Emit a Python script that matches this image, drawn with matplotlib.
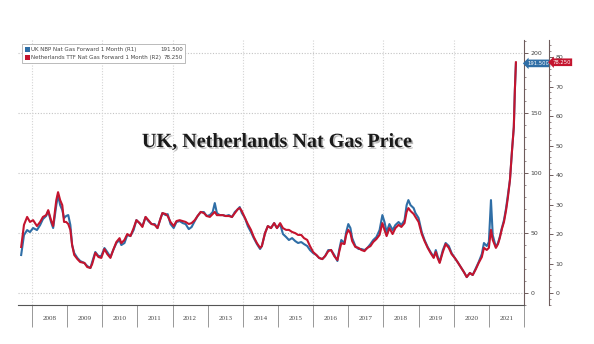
import matplotlib
matplotlib.use("Agg")
import matplotlib.pyplot as plt
import matplotlib.patheffects as pe
from matplotlib.patches import Rectangle
from matplotlib.ticker import MultipleLocator, FixedLocator

# decimal years of the read points
dates = [2007.69, 2007.77, 2007.86, 2007.94, 2008.03, 2008.14, 2008.23, 2008.31, 2008.40, 2008.46,
         2008.54, 2008.60, 2008.69, 2008.74, 2008.80, 2008.86, 2008.91, 2008.97, 2009.03, 2009.09,
         2009.14, 2009.20, 2009.29, 2009.37, 2009.49, 2009.57, 2009.66, 2009.71, 2009.80, 2009.89,
         2009.97, 2010.06, 2010.14, 2010.23, 2010.31, 2010.40, 2010.49, 2010.54, 2010.63, 2010.71,
         2010.80, 2010.89, 2010.97, 2011.06, 2011.14, 2011.23, 2011.31, 2011.40, 2011.49, 2011.57,
         2011.66, 2011.71, 2011.80, 2011.86, 2011.94, 2012.03, 2012.11, 2012.20, 2012.29, 2012.37,
         2012.46, 2012.54, 2012.63, 2012.71, 2012.80, 2012.89, 2012.97, 2013.06, 2013.14, 2013.20,
         2013.26, 2013.34, 2013.43, 2013.51, 2013.60, 2013.69, 2013.77, 2013.86, 2013.91, 2013.97,
         2014.06, 2014.14, 2014.23, 2014.31, 2014.40, 2014.49, 2014.54, 2014.63, 2014.71, 2014.80,
         2014.89, 2014.97, 2015.06, 2015.14, 2015.23, 2015.31, 2015.40, 2015.49, 2015.57, 2015.66,
         2015.74, 2015.83, 2015.91, 2016.00, 2016.09, 2016.17, 2016.26, 2016.34, 2016.43, 2016.51,
         2016.60, 2016.69, 2016.74, 2016.80, 2016.89, 2016.94, 2017.00, 2017.06, 2017.11, 2017.20,
         2017.29, 2017.37, 2017.46, 2017.54, 2017.63, 2017.71, 2017.80, 2017.89, 2017.97, 2018.03,
         2018.09, 2018.17, 2018.26, 2018.34, 2018.43, 2018.51, 2018.60, 2018.66, 2018.71, 2018.77,
         2018.86, 2018.91, 2019.00, 2019.09, 2019.17, 2019.26, 2019.34, 2019.43, 2019.49, 2019.54,
         2019.60, 2019.69, 2019.77, 2019.86, 2019.94, 2020.03, 2020.11, 2020.20, 2020.29, 2020.37,
         2020.46, 2020.54, 2020.63, 2020.71, 2020.80, 2020.86, 2020.94, 2021.00, 2021.06, 2021.11,
         2021.20, 2021.26, 2021.31, 2021.37, 2021.43, 2021.49, 2021.54, 2021.60, 2021.66, 2021.71,
         2021.74, 2021.77]

# UK NBP, pence/therm (R1)
nbp = [31.7, 48.3, 52.5, 50.8, 54.2, 52.5, 56.7, 61.7, 64.2, 68.3,
       59.2, 54.2, 73.3, 81.7, 73.3, 69.2, 62.5, 64.2, 65.0, 56.7,
       40.0, 33.3, 29.2, 26.7, 25.0, 22.5, 20.8, 25.8, 34.2, 30.8,
       30.8, 37.5, 34.2, 30.0, 35.8, 41.7, 44.2, 40.0, 41.7, 48.3,
       47.5, 52.5, 60.8, 58.3, 55.8, 63.3, 60.0, 57.5, 57.5, 54.2,
       62.5, 66.7, 65.0, 65.8, 57.5, 54.2, 59.2, 60.0, 58.3, 57.5,
       53.3, 55.0, 60.0, 64.2, 67.5, 67.5, 64.2, 65.0, 67.5, 75.0,
       66.7, 65.0, 65.0, 64.2, 65.0, 63.3, 67.5, 70.0, 71.7, 66.7,
       62.5, 55.8, 50.8, 45.8, 40.8, 36.7, 39.2, 50.0, 55.8, 54.2,
       58.3, 54.2, 57.5, 49.2, 46.7, 44.2, 45.8, 43.3, 41.7, 42.5,
       40.8, 39.2, 35.8, 33.3, 31.7, 29.2, 28.3, 30.8, 35.8, 35.8,
       31.7, 26.7, 35.8, 44.2, 41.7, 50.8, 57.5, 54.2, 45.8, 39.2,
       36.7, 36.7, 35.8, 37.5, 40.8, 44.2, 46.7, 52.5, 65.0, 59.2,
       50.8, 57.5, 52.5, 56.7, 59.2, 56.7, 60.8, 73.3, 77.5, 73.3,
       70.8, 66.7, 62.5, 50.8, 44.2, 38.3, 34.2, 30.0, 35.8, 30.8,
       25.8, 35.8, 41.7, 39.2, 33.3, 29.2, 25.8, 21.7, 17.5, 13.3,
       16.7, 15.0, 20.8, 25.8, 32.5, 41.7, 39.2, 42.5, 77.5, 48.3,
       38.3, 41.7, 46.7, 54.2, 60.8, 70.8, 81.7, 94.2, 119.2, 138.3,
       169.2, 191.5]

# Netherlands TTF, EUR/MWh (R2)
ttf = [15.6, 23.1, 25.8, 24.1, 24.7, 22.7, 24.1, 25.8, 26.4, 28.1,
       24.7, 22.7, 31.5, 34.2, 31.5, 29.8, 24.1, 24.1, 23.4, 21.4,
       16.3, 12.9, 11.5, 10.5, 10.2, 8.8, 8.5, 9.8, 13.6, 12.2,
       11.9, 14.9, 13.2, 11.9, 14.6, 17.3, 18.6, 16.9, 18.0, 20.0,
       19.3, 22.0, 24.7, 23.7, 22.4, 25.8, 24.7, 23.4, 23.1, 22.0,
       25.4, 27.1, 26.8, 26.1, 24.1, 22.7, 24.4, 24.7, 24.4, 24.1,
       23.4, 23.7, 24.7, 26.1, 27.5, 27.1, 26.1, 25.8, 26.8, 27.5,
       26.4, 26.4, 26.4, 26.1, 26.1, 25.8, 27.1, 28.5, 28.8, 27.8,
       25.4, 23.4, 21.4, 19.0, 16.9, 15.3, 15.9, 20.3, 22.7, 22.0,
       23.7, 22.0, 23.7, 22.0, 21.4, 21.4, 20.7, 20.3, 19.7, 19.7,
       18.6, 18.0, 15.9, 13.9, 12.9, 11.9, 11.5, 12.5, 14.2, 14.6,
       12.5, 11.2, 13.9, 16.9, 16.6, 19.7, 21.4, 20.3, 17.6, 15.6,
       15.3, 14.6, 14.2, 15.3, 15.9, 17.3, 18.3, 19.7, 23.7, 21.4,
       19.3, 22.0, 20.0, 22.0, 23.1, 22.4, 23.7, 27.5, 28.8, 27.8,
       26.8, 25.8, 24.1, 20.0, 17.6, 15.3, 13.6, 11.9, 13.9, 11.9,
       10.2, 13.9, 16.6, 15.3, 13.2, 11.9, 10.5, 8.8, 7.1, 5.4,
       6.8, 6.1, 8.1, 10.2, 12.2, 15.3, 14.6, 15.3, 21.4, 18.0,
       15.3, 16.6, 18.6, 21.7, 24.1, 28.1, 32.2, 38.3, 48.5, 56.3,
       68.8, 78.25]

years = list(range(2008, 2022))
year_labels = [str(y) for y in years]
grid_years = [2008, 2010, 2012, 2014, 2016, 2018, 2020]

nbp_label = "UK NBP Nat Gas Forward 1 Month (R1)"
ttf_label = "Netherlands TTF Nat Gas Forward 1 Month (R2)"
nbp_last = "191.500"
ttf_last = "78.250"

BLUE = "#2f6ea6"
RED = "#c4142e"
SPINE = "#6e5c5c"
TXT = "#444444"

W, H = 594, 344
fig = plt.figure(figsize=(W / 100, H / 100), dpi=100)
fig.patch.set_facecolor("white")

ax1 = fig.add_axes([18 / W, 39 / H, 506 / W, 265 / H])
ax2 = ax1.twinx()

ax1.plot(dates, nbp, color=BLUE, lw=1.5, solid_joinstyle="round", zorder=3)
ax2.plot(dates, ttf, color=RED, lw=1.5, solid_joinstyle="round", zorder=3)

ax1.set_xlim(2007.6, 2022.0)
ax1.set_ylim(-10, 211)
ax2.set_ylim(-4.07, 85.8)

# spines
for s in ["left", "top"]:
    ax1.spines[s].set_visible(False)
    ax2.spines[s].set_visible(False)
ax2.spines["bottom"].set_visible(False)
ax1.spines["right"].set_color(SPINE)
ax1.spines["right"].set_linewidth(0.8)
ax1.spines["bottom"].set_color("#555555")
ax1.spines["bottom"].set_linewidth(0.8)
ax2.spines["right"].set_position(("outward", 18))
ax2.spines["right"].set_color(SPINE)
ax2.spines["right"].set_linewidth(0.8)

# y axes (both on the right)
ax1.yaxis.tick_right()
ax1.set_yticks([0, 50, 100, 150, 200])
ax1.yaxis.set_minor_locator(MultipleLocator(10))
ax1.tick_params(axis="y", which="major", length=3, width=0.7, color=SPINE,
                labelsize=4.5, labelcolor=TXT, pad=1.5)
ax1.tick_params(axis="y", which="minor", length=1.5, width=0.5, color=SPINE)
ax2.set_yticks([0, 10, 20, 30, 40, 50, 60, 70, 80])
ax2.yaxis.set_minor_locator(MultipleLocator(2))
ax2.tick_params(axis="y", which="major", length=3, width=0.7, color=SPINE,
                labelsize=4.5, labelcolor=TXT, pad=1.5)
ax2.tick_params(axis="y", which="minor", length=1.5, width=0.5, color=SPINE)

# x axis: year separators with labels in between
ax1.xaxis.set_major_locator(FixedLocator(years + [2022]))
ax1.xaxis.set_minor_locator(FixedLocator([y + 0.5 for y in years]))
ax1.set_xticklabels([], minor=False)
ax1.set_xticklabels(year_labels, minor=True, family="Liberation Serif")
ax1.tick_params(axis="x", which="major", length=16, width=0.6, color="#888888")
ax1.tick_params(axis="x", which="minor", length=0, labelsize=5, labelcolor=TXT, pad=8)

# dotted grid
for v in [0, 50, 100, 150, 200]:
    ax1.axhline(v, color="#c4c4c4", lw=0.8, ls=(0, (1, 1.5)), zorder=1)
for g in grid_years:
    ax1.axvline(g, color="#d4d4d4", lw=0.8, ls=(0, (1, 1.5)), zorder=1)

# last value tags
ax1.text(1.006, 191.5, nbp_last, transform=ax1.get_yaxis_transform(), color="white",
         fontsize=3.8, va="center", ha="left", zorder=5, clip_on=False,
         bbox=dict(boxstyle="larrow,pad=0.25", fc=BLUE, ec="none"))
ax2.text(1.056, 78.25, ttf_last, transform=ax2.get_yaxis_transform(), color="white",
         fontsize=3.8, va="center", ha="left", zorder=5, clip_on=False,
         bbox=dict(boxstyle="larrow,pad=0.25", fc=RED, ec="none"))

# legend box
fig.patches.append(Rectangle((22 / W, 1 - 63 / H), 163 / W, 19 / H, transform=fig.transFigure,
                             fc="white", ec="#b0b0b0", lw=0.6, zorder=10))
for row, (col, lab, val) in enumerate([(BLUE, nbp_label, nbp_last), (RED, ttf_label, ttf_last)]):
    yy = 1 - (49.5 + row * 8) / H
    fig.patches.append(Rectangle((24.5 / W, yy - 2.5 / H), 5 / W, 5 / H, transform=fig.transFigure,
                                 fc=col, ec="none", zorder=11))
    fig.text(31 / W, yy, lab, fontsize=4, color=TXT, va="center", ha="left", zorder=12)
    fig.text(183 / W, yy, val, fontsize=4, color=TXT, va="center", ha="right", zorder=12)

# title with soft shadow
fig.text(277 / W, 1 - 142 / H, "UK, Netherlands Nat Gas Price", fontsize=14.5, fontweight="bold",
         family="Liberation Serif", color="#1a1a1a", ha="center", va="center",
         path_effects=[pe.withSimplePatchShadow(offset=(1.2, -1.2), shadow_rgbFace="#777777", alpha=0.5)])

fig.savefig("out.png", dpi=100, facecolor="white")
